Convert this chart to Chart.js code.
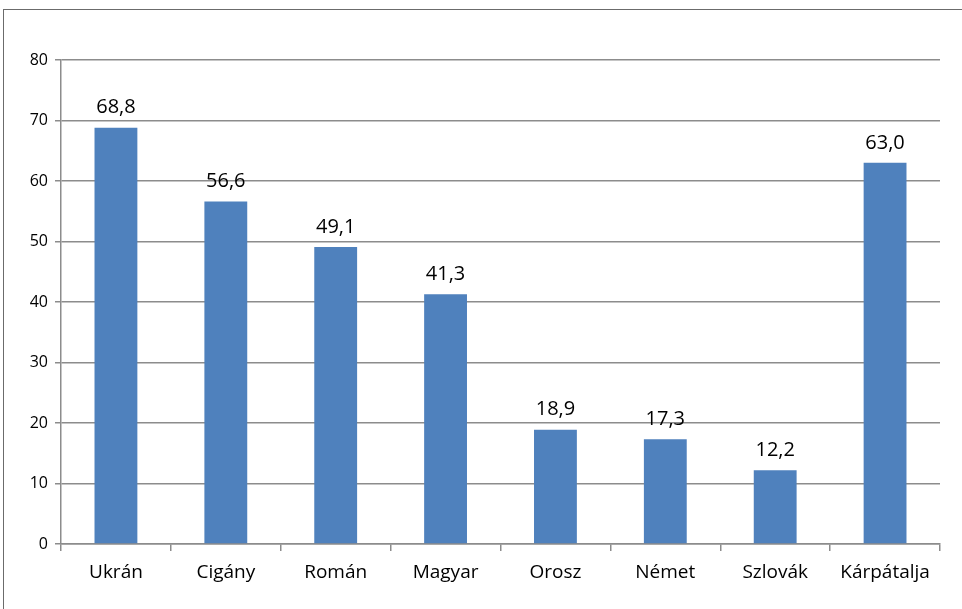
<!DOCTYPE html>
<html>
<head>
<meta charset="utf-8">
<script src="https://cdn.jsdelivr.net/npm/chart.js@4"></script>
<style>
  html, body { margin: 0; padding: 0; background: #fff; overflow: hidden; }
  #wrap { position: relative; width: 962px; height: 609px; }
  #frame { position: absolute; left: 3px; top: 9px; width: 1000px; height: 700px; border: 1.5px solid #6b6b6b; box-sizing: border-box; }
  canvas { position: absolute; left: 0; top: 0; }
</style>
</head>
<body>
<div id="wrap">
  <div id="frame"></div>
  <canvas id="chart" width="962" height="609"></canvas>
</div>
<script>
// Nemzetiségek szerinti értékek
const categories = ["Ukrán", "Cigány", "Román", "Magyar", "Orosz", "Német", "Szlovák", "Kárpátalja"];
const values = [68.8, 56.6, 49.1, 41.3, 18.9, 17.3, 12.2, 63.0];
const yTicks = [0, 10, 20, 30, 40, 50, 60, 70, 80];

const FONT = "Open Sans, 'Noto Sans', sans-serif";
const BLUE = "#4F81BD";
const GRID = "#8c8c8c";

// értékcímkék az oszlopok fölé
const valueLabels = {
  id: "valueLabels",
  afterDatasetsDraw(chart) {
    const ctx = chart.ctx;
    const meta = chart.getDatasetMeta(0);
    ctx.save();
    ctx.font = "20px " + FONT;
    ctx.fillStyle = "#000";
    ctx.textAlign = "center";
    ctx.textBaseline = "bottom";
    meta.data.forEach((bar, i) => {
      ctx.fillText(values[i].toFixed(1).replace(".", ","), bar.x, bar.y - 10);
    });
    ctx.restore();
  },
};

new Chart(document.getElementById("chart"), {
  type: "bar",
  data: {
    labels: categories,
    datasets: [{
      data: values,
      backgroundColor: BLUE,
      barPercentage: 0.39,
      categoryPercentage: 1,
    }],
  },
  options: {
    responsive: false,
    animation: false,
    layout: { padding: { top: 60, right: 22, left: 0, bottom: 0 } },
    plugins: { legend: { display: false }, tooltip: { enabled: false } },
    scales: {
      x: {
        offset: true,
        grid: { display: true, drawOnChartArea: false, drawTicks: true, tickLength: 7, color: GRID, lineWidth: 1.5, offset: true },
        border: { color: GRID, width: 1.5 },
        ticks: { color: "#000", font: { family: FONT, size: 19 }, padding: 10, maxRotation: 0 },
        afterFit(scale) { scale.height = 65; },
      },
      y: {
        min: 0,
        max: 80,
        afterBuildTicks(scale) { scale.ticks = yTicks.map((v) => ({ value: v })); },
        grid: { color: GRID, lineWidth: 1.5, tickLength: 6 },
        border: { color: GRID, width: 1.5 },
        ticks: { color: "#000", font: { family: FONT, size: 16 }, padding: 7 },
        afterFit(scale) { scale.width = 61; },
      },
    },
  },
  plugins: [valueLabels],
});
</script>
</body>
</html>
